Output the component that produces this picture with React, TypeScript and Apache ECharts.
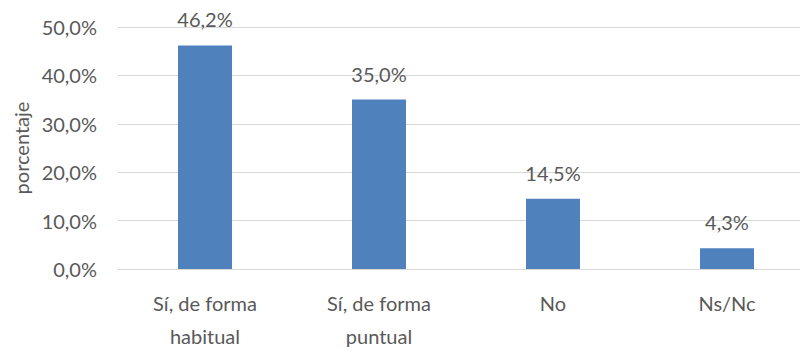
import React, { useEffect, useRef } from "react";
import * as echarts from "echarts";

const categories = ["Sí, de forma\nhabitual", "Sí, de forma\npuntual", "No", "Ns/Nc"];
const values = [46.2, 35.0, 14.5, 4.3];
const yAxisName = "porcentaje";

const fmt = (v: number) => v.toFixed(1).replace(".", ",") + "%";

export default function App() {
  const ref = useRef<HTMLDivElement>(null);
  useEffect(() => {
    const chart = echarts.init(ref.current!, null, { renderer: "svg" });
    const font = "Lato, 'Open Sans', sans-serif";
    chart.setOption({
      animation: false,
      grid: { left: 118, top: 27, width: 696, height: 245, containLabel: false },
      xAxis: {
        type: "category",
        data: categories,
        axisLine: { lineStyle: { color: "#d9d9d9", width: 1 } },
        axisTick: { show: false },
        axisLabel: {
          color: "#595959",
          fontSize: 20,
          fontFamily: font,
          margin: 17,
          lineHeight: 33,
          interval: 0,
        },
      },
      yAxis: {
        type: "value",
        min: 0,
        max: 50,
        interval: 10,
        name: yAxisName,
        nameLocation: "middle",
        nameGap: 80,
        nameRotate: 90,
        nameTextStyle: { color: "#595959", fontSize: 20, fontFamily: font },
        axisLine: { show: false },
        axisTick: { show: false },
        splitLine: { lineStyle: { color: "#d9d9d9", width: 1 } },
        axisLabel: {
          color: "#595959",
          fontSize: 20,
          fontFamily: font,
          margin: 21,
          formatter: (v: number) => fmt(v),
        },
      },
      series: [
        {
          type: "bar",
          data: values,
          barWidth: 54,
          itemStyle: { color: "#4f81bd" },
          label: {
            show: true,
            position: "top",
            distance: 16,
            color: "#595959",
            fontSize: 20,
            fontFamily: font,
            formatter: (p: any) => fmt(p.value),
          },
        },
      ],
    });
    return () => chart.dispose();
  }, []);
  return (
    <div
      style={{
        position: "absolute",
        left: 0,
        top: 0,
        width: 800,
        height: 352,
        overflow: "hidden",
      }}
    >
      <div ref={ref} style={{ width: 830, height: 352 }} />
    </div>
  );
}
